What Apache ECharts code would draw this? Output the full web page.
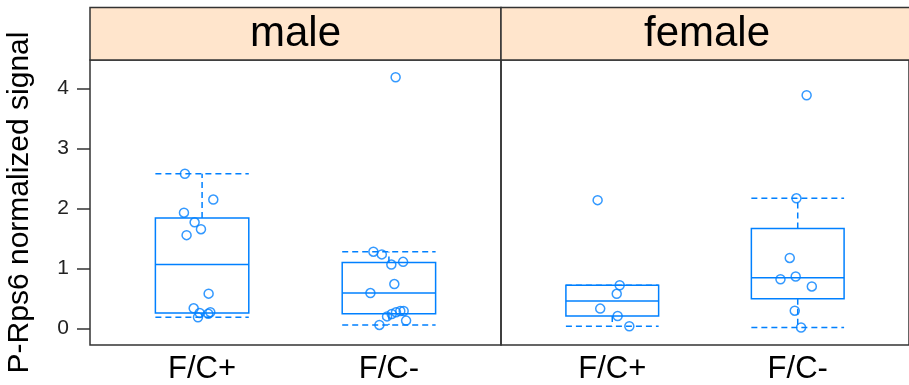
<!DOCTYPE html>
<html>
<head>
<meta charset="utf-8">
<script src="https://cdn.jsdelivr.net/npm/echarts@6/dist/echarts.min.js"></script>
<style>
  html, body { margin: 0; padding: 0; background: #ffffff; }
  #chart { width: 909px; height: 385px; }
</style>
</head>
<body>
<div id="chart"></div>
<script>
// Panels (sex) and groups within each panel
const panels = ['male', 'female'];
const groups = ['F/C+', 'F/C-'];
const yTicks = [0, 1, 2, 3, 4];

// Individual measurements (normalized signal) and their horizontal jitter
const maleFCplus = [2.58, 2.15, 1.93, 1.77, 1.655, 1.556, 0.58, 0.335, 0.257, 0.186, 0.245, 0.27];
const maleFCplusJitter = [-0.092, 0.060, -0.097, -0.040, -0.006, -0.083, 0.035, -0.045, -0.013, -0.022, 0.033, 0.044];
const maleFCminus = [4.19, 1.28, 1.235, 1.065, 1.11, 0.74, 0.59, 0.20, 0.24, 0.27, 0.29, 0.29, 0.13, 0.058];
const maleFCminusJitter = [0.036, -0.083, -0.038, 0.013, 0.076, 0.029, -0.099, -0.010, 0.015, 0.038, 0.061, 0.079, 0.092, -0.051];
const femaleFCplus = [2.14, 0.72, 0.577, 0.33, 0.207, 0.036];
const femaleFCplusJitter = [-0.079, 0.040, 0.024, -0.065, 0.029, 0.092];
const femaleFCminus = [3.89, 2.17, 1.175, 0.82, 0.866, 0.70, 0.295, 0.015];
const femaleFCminusJitter = [0.048, -0.007, -0.043, -0.093, -0.011, 0.076, -0.016, 0.018];

// Box summaries: [lower whisker, Q1, median, Q3, upper whisker]
const maleFCplusBox = [0.186, 0.257, 1.065, 1.84, 2.58];
const maleFCminusBox = [0.058, 0.245, 0.59, 1.10, 1.28];
const femaleFCplusBox = [0.036, 0.207, 0.456, 0.72, 0.72];
const femaleFCminusBox = [0.015, 0.494, 0.843, 1.667, 2.17];

const BLUE = '#0080ff';
const FRAME = '#333333';
const STRIP = '#ffe5cc';
const FONT = '"Liberation Sans", Arial, Helvetica, sans-serif';
const BOX_HALF = 0.25;

const panelPoints = [
  [[maleFCplus, maleFCplusJitter], [maleFCminus, maleFCminusJitter]],
  [[femaleFCplus, femaleFCplusJitter], [femaleFCminus, femaleFCminusJitter]]
];
const panelBoxes = [
  [maleFCplusBox, maleFCminusBox],
  [femaleFCplusBox, femaleFCminusBox]
];

// Panel geometry
const gridTop = 60, gridHeight = 286;
const grids = [
  { left: 90, top: gridTop, width: 411, height: gridHeight },
  { left: 501, top: gridTop, width: 412, height: gridHeight }
];

function renderBox(params, api) {
  const pos = api.value(0);
  const lo = api.value(1), q1 = api.value(2), med = api.value(3), q3 = api.value(4), hi = api.value(5);
  const l = api.coord([pos - BOX_HALF, med])[0];
  const r = api.coord([pos + BOX_HALF, med])[0];
  const cx = api.coord([pos, med])[0];
  const y = v => api.coord([pos, v])[1];
  const solid = { stroke: BLUE, lineWidth: 1.5, fill: null };
  const dashed = { stroke: BLUE, lineWidth: 1.5, lineDash: [6, 4], fill: null };
  return {
    type: 'group',
    children: [
      { type: 'line', shape: { x1: cx, y1: y(q3), x2: cx, y2: y(hi) }, style: dashed },
      { type: 'line', shape: { x1: cx, y1: y(q1), x2: cx, y2: y(lo) }, style: dashed },
      { type: 'line', shape: { x1: l, y1: y(hi), x2: r, y2: y(hi) }, style: dashed },
      { type: 'line', shape: { x1: l, y1: y(lo), x2: r, y2: y(lo) }, style: dashed },
      { type: 'rect', shape: { x: l, y: y(q3), width: r - l, height: y(q1) - y(q3) }, style: solid },
      { type: 'line', shape: { x1: l, y1: y(med), x2: r, y2: y(med) }, style: solid }
    ]
  };
}

const xAxes = grids.map((g, i) => ({
  type: 'value',
  gridIndex: i,
  min: 0.4,
  max: 2.6,
  splitLine: { show: false },
  axisLine: { show: false },
  axisTick: { show: false },
  axisLabel: {
    customValues: [1, 2],
    formatter: v => groups[Math.round(v) - 1] || '',
    color: '#000',
    fontFamily: FONT,
    fontSize: 31,
    margin: 9
  }
}));

const yAxes = grids.map((g, i) => ({
  type: 'value',
  gridIndex: i,
  min: -0.277,
  max: 4.478,
  splitLine: { show: false },
  axisLine: { show: false },
  axisTick: i === 0
    ? { show: true, customValues: yTicks, length: 13, lineStyle: { color: FRAME, width: 1.5 } }
    : { show: false },
  axisLabel: i === 0
    ? { show: true, customValues: yTicks, color: '#222', fontFamily: FONT, fontSize: 21, margin: 21 }
    : { show: false },
  name: i === 0 ? 'P-Rps6 normalized signal' : '',
  nameLocation: 'middle',
  nameRotate: 90,
  nameGap: 55,
  nameTextStyle: { color: '#000', fontFamily: FONT, fontSize: 30 }
}));

const series = [];
panels.forEach((p, i) => {
  series.push({
    type: 'custom',
    name: p + ' boxes',
    xAxisIndex: i,
    yAxisIndex: i,
    renderItem: renderBox,
    silent: true,
    z: 2,
    data: panelBoxes[i].map((b, k) => [k + 1].concat(b))
  });
  const pts = [];
  panelPoints[i].forEach(([vals, jit], k) => {
    vals.forEach((v, j) => pts.push([k + 1 + jit[j], v]));
  });
  series.push({
    type: 'scatter',
    name: p + ' points',
    xAxisIndex: i,
    yAxisIndex: i,
    symbol: 'circle',
    symbolSize: 9,
    itemStyle: { color: 'rgba(0,0,0,0)', borderColor: BLUE, borderWidth: 1.5 },
    z: 3,
    data: pts
  });
});

// Strip headers above each panel
const graphics = [];
grids.forEach((g, i) => {
  graphics.push({
    type: 'rect',
    shape: { x: g.left, y: 7.5, width: g.width, height: gridTop - 7.5 },
    style: { fill: STRIP, stroke: FRAME, lineWidth: 1.5 },
    z: 10
  });
  graphics.push({
    type: 'text',
    x: g.left + g.width / 2,
    y: 34,
    style: {
      text: panels[i],
      fill: '#000',
      font: '42px ' + FONT,
      textAlign: 'center',
      textVerticalAlign: 'middle'
    },
    z: 11
  });
});

const chart = echarts.init(document.getElementById('chart'));
chart.setOption({
  animation: false,
  backgroundColor: '#ffffff',
  grid: grids.map(g => Object.assign({ show: true, borderColor: FRAME, borderWidth: 1.5, backgroundColor: 'transparent' }, g)),
  xAxis: xAxes,
  yAxis: yAxes,
  series: series,
  graphic: graphics
});
</script>
</body>
</html>
